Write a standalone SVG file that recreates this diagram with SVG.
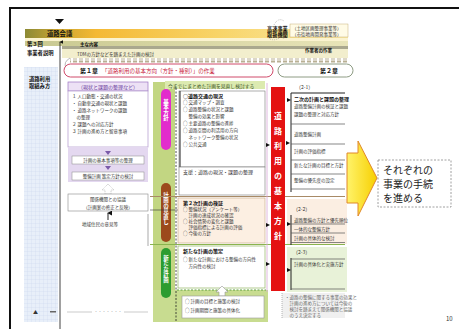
<svg xmlns="http://www.w3.org/2000/svg" width="459" height="329" viewBox="0 0 459 329">
<defs>
  <linearGradient id="gold" x1="0" x2="1" y1="0" y2="0">
    <stop offset="0" stop-color="#8c8a34"/>
    <stop offset="0.1" stop-color="#c9a432"/>
    <stop offset="0.22" stop-color="#f4b934"/>
    <stop offset="0.6" stop-color="#f8d468"/>
    <stop offset="1" stop-color="#faeaa8"/>
  </linearGradient>
  <linearGradient id="olive" x1="0" x2="1">
    <stop offset="0" stop-color="#c8c890"/>
    <stop offset="1" stop-color="#e8e4b8"/>
  </linearGradient>
  <linearGradient id="yarrow" x1="0" x2="1">
    <stop offset="0" stop-color="#fff36a"/>
    <stop offset="1" stop-color="#f7cf00"/>
  </linearGradient>
  <pattern id="grid" width="4" height="4" patternUnits="userSpaceOnUse">
    <rect width="4" height="4" fill="#e8eff9"/>
    <path d="M4 0V4H0" fill="none" stroke="#c6d4ea" stroke-width="0.5"/>
  </pattern>
  <pattern id="sq" width="6" height="4" patternUnits="userSpaceOnUse">
    <rect x="1" y="0.5" width="4" height="3" fill="#b9b094"/>
  </pattern>
  <marker id="up" viewBox="0 0 6 6" refX="3" refY="1" markerWidth="5" markerHeight="5" orient="auto-start-reverse">
    <path d="M0 6L3 0L6 6Z" fill="#111"/>
  </marker>
</defs>
<style>
  .t{font-family:"Noto Sans CJK JP","Noto Sans",sans-serif;font-size:5px;fill:#333}
  .s{font-size:4.5px}
  .b{font-weight:bold;fill:#111}
  .v{writing-mode:vertical-rl;font-family:"Noto Sans CJK JP",sans-serif;fill:#fff;font-weight:bold}
  .ln{stroke:#555;stroke-width:0.7;fill:none}
  .dk{stroke:#222;stroke-width:1;fill:none}
  .tri{fill:#111}
  .big{font-size:10px;fill:#222}
</style>
<rect width="459" height="329" fill="#fff"/>
<rect x="10" y="8" width="460" height="330" fill="none" stroke="#111" stroke-width="2"/>

<!-- header bands -->
<g id="header">
  <polygon points="55,19 64,19 59.5,24" fill="#111"/>
  <rect x="25" y="29" width="323" height="9" fill="url(#gold)"/>
  <text class="t b" x="47" y="36" style="font-size:6.3px">道路会議</text>
  <rect x="25" y="38" width="323" height="3" fill="#fbf3cf"/>
  <rect x="25" y="41" width="323" height="5" fill="url(#olive)"/>
  <rect x="62" y="46" width="286" height="3" fill="#aaa88e"/>
  <rect x="62" y="49" width="286" height="9" fill="#f2eecd"/>
  <rect x="70" y="58.5" width="278" height="4" fill="url(#sq)"/>
  <text class="t b s" x="80" y="45.5">主な内容</text>
  <text class="t s" x="77" y="56">TDMの方針などを踏まえた計画の検討</text>
  <text class="t s b" x="305" y="52">作業者の作業</text>
  <path d="M70 58 Q63 62 66 68" fill="none" stroke="#999" stroke-width="0.7"/>
  <path d="M274 25 Q278 17 284 21" fill="none" stroke="#999" stroke-width="0.6" stroke-dasharray="1 1"/>
  <path d="M270 39 Q275 41 279 38" fill="none" stroke="#999" stroke-width="0.6" stroke-dasharray="1 1"/>
  <text class="t b" x="267" y="31" style="font-size:5.2px">高速事業</text>
  <text class="t b" x="267" y="37" style="font-size:5.2px">取扱機関</text>
  <rect x="290" y="24" width="58" height="13" fill="#fffbe6" stroke="#b8a060" stroke-width="0.4"/>
  <text class="t s" x="292" y="29.5">（土地区画整理事業等）</text>
  <text class="t s" x="292" y="35.5">（市街地再開発事業等）</text>
</g>

<!-- left labels -->
<g id="left-labels">
  <rect x="24" y="67" width="34" height="255" fill="url(#grid)"/>
  <text class="t b" x="27" y="46" style="font-size:5.3px">第３回</text>
  <text class="t b" x="27" y="55" style="font-size:5.3px">事業者説明</text>
  <text class="t b" x="29" y="81" style="font-size:5.3px">道路利用</text>
  <text class="t b" x="29" y="88" style="font-size:5.3px">取組み方</text>
  <text class="t" x="33" y="314" fill="#888">▲</text>
  <rect x="50" y="311" width="6" height="1.5" fill="#666"/>
</g>

<!-- chapter boxes -->
<g id="chapter1">
  <rect x="64" y="64" width="209" height="13" rx="6.5" fill="#fff" stroke="#d04a6a" stroke-width="1"/>
  <text class="t b" x="80" y="73" style="font-size:6px">第１章</text>
  <text class="t" x="102" y="73" style="font-size:5.5px;fill:#c8203c">「道路利用の基本方向（方針・種別）」の作業</text>
</g>
<g id="chapter2">
  <rect x="278" y="64" width="75" height="13" rx="6.5" fill="#fff" stroke="#8e9c84" stroke-width="1"/>
  <text class="t b" x="320" y="73" style="font-size:6px">第２章</text>
</g>

<!-- left column -->
<g id="left-column">
  <rect x="68" y="82" width="80" height="9" fill="#ede1f5" stroke="#9c74c2" stroke-width="0.7"/>
  <text class="t" x="108" y="88.8" text-anchor="middle" style="fill:#6a3c9c">（現状と課題の整理など）</text>
  <rect x="68" y="91" width="80" height="56" fill="#fff" stroke="#b9a2d2" stroke-width="0.8"/>
  <text class="t s" x="72" y="98">１ 人口動態・交通の状況</text>
  <text class="t s" x="72" y="105">・ 自動車交通の現状と課題</text>
  <text class="t s" x="72" y="112">・ 道路ネットワークの課題</text>
  <text class="t s" x="72" y="119">　の整理</text>
  <text class="t s" x="72" y="126">２ 課題への対応方針</text>
  <text class="t s" x="72" y="133">３ 計画の進め方と留意事項</text>
  <rect x="68" y="147" width="80" height="35" fill="#e4d8f0"/>
  <polygon points="105,151 111,151 108,155" fill="#7a5aa8"/>
  <rect x="72" y="156" width="72" height="8" fill="#fff" stroke="#888" stroke-width="0.5"/>
  <text class="t s" x="108" y="161.8" text-anchor="middle">計画の基本事項等の整理</text>
  <polygon points="105,166 111,166 108,170" fill="#7a5aa8"/>
  <rect x="72" y="172" width="72" height="8" fill="#fff" stroke="#888" stroke-width="0.5"/>
  <text class="t s" x="108" y="177.8" text-anchor="middle">整備計画 策定方針の検討</text>
  <polygon points="108,184 102,190 105,190 105,194 111,194 111,190 114,190" fill="#fff" stroke="#aaa" stroke-width="0.6" stroke-dasharray="1 0.8"/>
  <rect x="68" y="194" width="80" height="17" fill="#fff" stroke="#888" stroke-width="0.6"/>
  <text class="t s" x="108" y="201" text-anchor="middle">関係機関との協議</text>
  <text class="t s" x="108" y="208.5" text-anchor="middle">（計画案の修正と反映）</text>
  <line x1="108" y1="220" x2="108" y2="213" class="dk" stroke-width="0.6" marker-end="url(#up)"/>
  <text class="t s" x="100" y="226" text-anchor="middle">地域住民の意見等</text>
  <rect x="147" y="214" width="2" height="32" fill="#d4d4d4"/>
  <line x1="67" y1="312" x2="148" y2="312" stroke="#aaa" stroke-width="0.6"/>
  <rect x="92" y="309" width="32" height="5" fill="#fff"/>
  <text class="t" x="108" y="313.5" text-anchor="middle" style="font-size:4px;fill:#999">・・・・・・・</text>
</g>

<!-- center column -->
<g id="center-column">
  <rect x="153" y="82" width="22" height="240" fill="#c2d682"/>
  <rect x="153" y="290" width="115" height="32" fill="#c8dc90"/>
  <rect x="165" y="81" width="100" height="8" fill="#dceab0"/>
  <text class="t" x="168" y="87.5" style="font-size:4.8px;fill:#34501a">今までにまとめた計画を見直し検討する</text>
  <rect x="161" y="89" width="10" height="61" rx="5" fill="#e22ccc"/>
  <text class="v" x="166" y="99" style="font-size:5.5px">基本方針</text>
  <rect x="161" y="183" width="10" height="59" rx="5" fill="#9c4a1c"/>
  <text class="v" x="166" y="192" style="font-size:5.5px">計画の見直し</text>
  <rect x="161" y="248" width="10" height="50" rx="5" fill="#2c9c30"/>
  <text class="v" x="166" y="255" style="font-size:5.5px">新たな計画</text>
  <line x1="176" y1="88" x2="176" y2="322" stroke="#222" stroke-width="0.8" stroke-dasharray="2 1.5"/>
  <line x1="150" y1="210" x2="179" y2="210" stroke="#333" stroke-width="0.6"/>

  <rect x="179" y="91" width="86" height="76" fill="#fff" stroke="#777" stroke-width="0.6"/>
  <line x1="180" y1="91" x2="180" y2="195" stroke="#444" stroke-width="1.2"/>
  <text class="t b" x="183" y="97.5">○道路交通の現況</text>
  <text class="t s" x="183" y="104">○ 交通マップ・調査</text>
  <text class="t s" x="183" y="111">○ 道路整備の状況と課題</text>
  <text class="t s" x="183" y="118">　 整備の効果と影響</text>
  <text class="t s" x="183" y="125">○ 主要道路の整備の進捗</text>
  <text class="t s" x="183" y="132">○ 道路空間の利活用の方向</text>
  <text class="t s" x="183" y="139">　 ネットワーク整備の状況</text>
  <text class="t s" x="183" y="146">○ 公共交通</text>
  <rect x="179" y="167" width="86" height="28" fill="#fff" stroke="#777" stroke-width="0.6"/>
  <text class="t" x="183" y="174">支援：道路の現況・課題の整理</text>
  <line x1="150" y1="196.5" x2="345" y2="196.5" stroke="#a88a66" stroke-width="1"/>

  <rect x="178" y="198" width="87" height="45" fill="#fcefe2" stroke="#c4a482" stroke-width="0.6"/>
  <text class="t b" x="183" y="204.5">第２次計画の検証</text>
  <text class="t s" x="183" y="211">○ 整備状況（アンケート等）</text>
  <text class="t s" x="183" y="217">　 計画の達成状況の確認</text>
  <text class="t s" x="183" y="223">○ 社会情勢の変化と課題</text>
  <text class="t s" x="183" y="229">　 評価指標による計画の評価</text>
  <text class="t s" x="183" y="235">○ 今後の方針</text>
  <line x1="150" y1="244.5" x2="345" y2="244.5" stroke="#8ab44e" stroke-width="1"/>

  <rect x="178" y="246" width="87" height="42" fill="#fff" stroke="#92b462" stroke-width="0.7"/>
  <text class="t b" x="183" y="253">新たな計画の策定</text>
  <text class="t s" x="183" y="261">○ 新たな計画における整備の方向性</text>
  <text class="t s" x="183" y="268">　 方向性の検討</text>
  <line x1="177" y1="290" x2="266" y2="290" stroke="#5ea040" stroke-width="1" stroke-dasharray="2 1.5"/>
  <polygon points="222,286 216,292 219,292 219,296 225,296 225,292 228,292" fill="#fff" stroke="#999" stroke-width="0.6"/>
  <rect x="182" y="296" width="82" height="22" fill="#fff" stroke="#999" stroke-width="0.6"/>
  <text class="t s" x="185" y="303">○ 計画の目標と施策の検討</text>
  <text class="t s" x="185" y="312">○ 計画期間と施策の具体化</text>
</g>

<!-- red bar -->
<g id="red-bar">
  <line x1="267" y1="83" x2="267" y2="292" stroke="#d8a6d8" stroke-width="0.8"/>
  <rect x="271" y="87" width="14" height="204" fill="#e41212"/>
  <text class="v" x="278" y="112" style="font-size:8px;letter-spacing:7px">道路利用の基本方針</text>
  <polygon points="266,143 270,145 266,147" class="tri"/>
  <polygon points="266,223 270,225 266,227" class="tri"/>
  <polygon points="266,262 270,264 266,266" class="tri"/>
</g>

<!-- right column -->
<g id="right-column">
  <text class="t" x="296" y="88.5">（2-1）</text>
  <line x1="291" y1="93" x2="291" y2="192" class="dk"/>
  <line x1="291" y1="93" x2="345" y2="93" class="dk" stroke-width="0.6"/>
  <polygon points="287,98 291,100 287,102" class="tri"/>
  <polygon points="286,141 290,143 286,145" class="tri"/>
  <text class="t b" x="294" y="100.5">二次の計画と課題の整理</text>
  <text class="t s" x="294" y="108">道路整備計画の検証と課題</text>
  <text class="t s" x="294" y="116">課題の整理と対応方針</text>
  <line x1="291" y1="124" x2="345" y2="124" class="ln"/>
  <text class="t s" x="294" y="136">道路整備計画</text>
  <line x1="291" y1="144" x2="345" y2="144" class="ln"/>
  <text class="t s" x="294" y="153">計画の評価指標</text>
  <line x1="291" y1="160" x2="345" y2="160" class="ln"/>
  <text class="t s" x="294" y="167">新たな計画の目標と方針</text>
  <line x1="291" y1="174" x2="345" y2="174" class="ln"/>
  <text class="t s" x="294" y="182">整備の優先度の設定</text>
  <line x1="291" y1="189" x2="345" y2="189" class="ln"/>

  <rect x="287" y="199" width="60" height="45" fill="#fbeee2"/>
  <text class="t" x="293" y="211">（2-2）</text>
  <line x1="291" y1="215" x2="291" y2="245" class="dk"/>
  <polygon points="287,222 291,224 287,226" class="tri"/>
  <text class="t s" x="294" y="221.5">道路整備の方針と優先順位</text>
  <line x1="291" y1="224" x2="345" y2="224" class="ln"/>
  <text class="t s" x="294" y="231">一体的な整備方針</text>
  <line x1="291" y1="233" x2="345" y2="233" class="ln"/>
  <text class="t s" x="294" y="240">計画の具体的な検討</text>
  <line x1="291" y1="242.5" x2="345" y2="242.5" class="ln"/>

  <rect x="287" y="247" width="60" height="45" fill="#e8f2d8"/>
  <text class="t" x="293" y="254">（2-3）</text>
  <line x1="291" y1="258" x2="291" y2="290" class="dk"/>
  <line x1="291" y1="259" x2="345" y2="259" class="ln"/>
  <polygon points="287,268 291,270 287,272" class="tri"/>
  <text class="t s" x="294" y="265.5">計画の具体化と実施方針</text>
  <line x1="291" y1="289" x2="345" y2="289" class="ln"/>

  <rect x="282" y="293" width="63" height="25" fill="#f0f0f0"/>
  <line x1="282" y1="293" x2="282" y2="318" stroke="#888" stroke-width="0.6" stroke-dasharray="1 1"/>
  <text class="t s" x="285" y="298.5" style="fill:#666">・道路の整備に関する事業の効果と</text>
  <text class="t s" x="285" y="304.5" style="fill:#666">　計画の進め方については今後の</text>
  <text class="t s" x="285" y="310.5" style="fill:#666">　検討を踏まえて関係機関と協議</text>
  <text class="t s" x="285" y="316.5" style="fill:#666">　のうえ決定する</text>
</g>

<!-- arrow and note -->
<g id="connectors">
  <line x1="60" y1="329" x2="60" y2="42" stroke="#111" stroke-width="0.8" marker-end="url(#up)"/>
  <polygon points="347,153 358,153 358,141 377,178 358,216 358,203 347,203" fill="url(#yarrow)" stroke="#e0882a" stroke-width="1"/>
</g>
<g id="note">
  <rect x="378" y="160" width="73" height="47" fill="#fff" stroke="#888" stroke-width="0.8" stroke-dasharray="2 1.5"/>
  <text class="t big" x="383" y="174">それぞれの</text>
  <text class="t big" x="383" y="188">事業の手続</text>
  <text class="t big" x="383" y="202">を進める</text>
</g>
<text class="t" x="446" y="321" style="font-size:6px">10</text>
</svg>
